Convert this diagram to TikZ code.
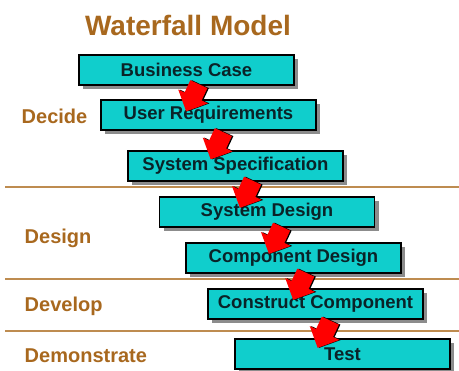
\documentclass[tikz,border=0pt]{standalone}
\usepackage{fontspec}
\setmainfont{Liberation Sans}
\usetikzlibrary{positioning,shapes,shapes.arrows,shadows,calc}
\tikzset{every picture/.style={line width=0.8pt}}
\definecolor{boxcyan}{RGB}{16,206,204}
\definecolor{phasebrown}{RGB}{168,104,30}
\definecolor{rulebrown}{RGB}{190,140,80}
\definecolor{textdark}{RGB}{10,35,40}

\begin{document}
\begin{tikzpicture}[x=1pt, y=-1pt,
    stage/.style={draw=black, line width=1.3pt, fill=boxcyan, minimum width=215pt, minimum height=30pt,
        inner sep=0pt, font=\fontsize{18.5}{20}\selectfont\bfseries, text=textdark,
        drop shadow={shadow xshift=4pt, shadow yshift=-4pt, fill=black!45, opacity=1}},
    fall/.style={single arrow, fill=red, minimum height=30pt, inner sep=9pt,
        single arrow head extend=7pt, rotate=245,
        general shadow={fill=black, shadow xshift=1.5pt, shadow yshift=0pt}},
    phase/.style={anchor=west, text=phasebrown, font=\fontsize{20}{22}\selectfont\bfseries}]
    \useasboundingbox (0,0) rectangle (459,371);

    % Title
    \node[text=phasebrown, font=\fontsize{28}{30}\selectfont\bfseries] (title) at (188,25) {Waterfall Model};

    % Phase separators
    \foreach \y in {187,279,331} {
        \draw[rulebrown, line width=2pt] (5,\y) -- (459,\y);
    }

    % Phase labels
    \node[phase] (decide) at (18,116) {Decide};
    \node[phase] (design) at (21,238) {Design};
    \node[phase] (develop) at (21,306) {Develop};
    \node[phase] (demo) at (21,356) {Demonstrate};

    % Stages
    \node[stage] (bc) at (186.5,70) {Business Case};
    \node[stage] (ur) at (208.5,115) {User Requirements};
    \node[stage] (ss) at (235.5,166) {System Specification};
    \node[stage] (sd) at (267,212) {System Design};
    \node[stage] (cd) at (293.5,258) {Component Design};
    \node[stage] (cc) at (315.5,304) {Construct Component};
    \node[stage] (ts) at (342.5,354) {Test};

    % Flow arrows
    \foreach \a/\b in {bc/ur,ur/ss,ss/sd,sd/cd,cd/cc,cc/ts} {
        \node[fall] (f-\b) at ($(\a.south)!.5!(\b.north)+(-3,1)$) {};
    }
\end{tikzpicture}
\end{document}
